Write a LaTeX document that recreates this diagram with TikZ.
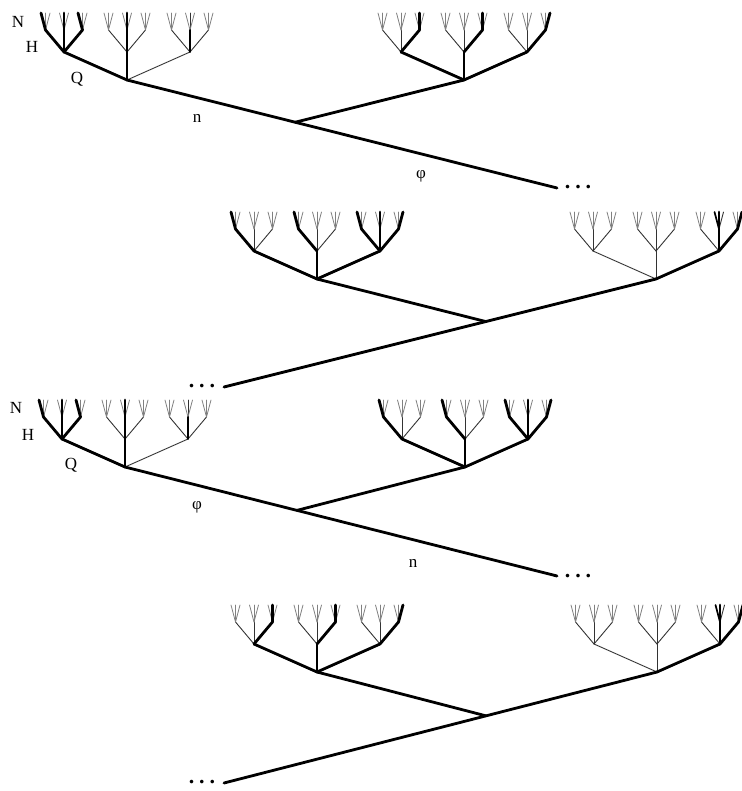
\documentclass[tikz,border=0pt]{standalone}
\usepackage{fontspec}
\setmainfont{Liberation Serif}
\usetikzlibrary{calc}

\tikzset{
  lbl/.style={font=\fontsize{17}{19}\selectfont, inner sep=0pt},
  dotsnode/.style={font=\fontsize{22}{24}\selectfont\bfseries, inner sep=0pt},
  mainline/.style={line width=2.8pt, line cap=round, line join=round},
  w0/.style={line width=0.8pt, draw=black!50, line cap=round},
  w1/.style={line width=0.9pt, draw=black!80, line cap=round},
  w2/.style={line width=1.7pt, draw=black, line cap=round},
  w3/.style={line width=2.8pt, draw=black, line cap=round},
}

% one edge, drawn in pass 0 (light) or pass 1 (heavy)
\newcommand{\drawedge}[4]{%
  \ifnum#1=0\relax
    \ifcase#2\relax \draw[w0] (#3) -- (#4);\or \draw[w1] (#3) -- (#4);\fi
  \else
    \ifcase#2\relax \or \or \draw[w2] (#3) -- (#4);\or \draw[w3] (#3) -- (#4);\fi
  \fi}

% three-level branching tree: root, 3 children, 9 grandchildren, 27 leaves
% #4 holds the 39 edge weights: 3 root edges, 9 child edges, 27 leaf edges
\newcommand{\branchtree}[4]{%
  \coordinate (#1) at (#2,#3);
  \foreach \i in {0,1,2}{
    \coordinate (#1-\i) at ($(#1)+({(\i-1)*63},-28)$);
    \foreach \j in {0,1,2}{
      \coordinate (#1-\i-\j) at ($(#1-\i)+({(\j-1)*18.5},-22)$);
      \foreach \k in {0,1,2}{
        \coordinate (#1-\i-\j-\k) at ($(#1-\i-\j)+({(\k-1)*4.5},-17)$);
      }
    }
  }
  \foreach \pass in {0,1}{
    \foreach \i in {0,1,2}{
      \pgfmathtruncatemacro\v{#4[\i]}
      \drawedge{\pass}{\v}{#1}{#1-\i}
      \foreach \j in {0,1,2}{
        \pgfmathtruncatemacro\v{#4[3+3*\i+\j]}
        \drawedge{\pass}{\v}{#1-\i}{#1-\i-\j}
        \foreach \k in {0,1,2}{
          \pgfmathtruncatemacro\v{#4[12+9*\i+3*\j+\k]}
          \drawedge{\pass}{\v}{#1-\i-\j}{#1-\i-\j-\k}
        }
      }
    }
  }
}

% edge weights of the four tree variants
\def\patA{{3,3,1, 3,3,3, 1,3,1, 1,2,1,
  3,0,0, 0,3,0, 3,0,0,  0,0,0, 0,3,0, 0,0,0,  0,0,0, 0,1,0, 0,0,0}}
\def\patB{{3,3,3, 1,1,3, 1,1,3, 1,1,3,
  0,0,0, 0,0,0, 0,3,0,  0,0,0, 0,0,0, 0,3,0,  0,0,0, 0,0,0, 0,0,3}}
\def\patC{{3,3,3, 3,1,1, 3,1,1, 3,3,3,
  3,0,0, 0,0,0, 0,0,0,  3,0,0, 0,0,0, 0,0,0,  3,0,0, 0,3,0, 0,0,3}}
\def\patD{{1,1,3, 1,1,1, 1,1,1, 1,3,3,
  0,0,0, 0,0,0, 0,0,0,  0,0,0, 0,0,0, 0,0,0,  0,0,0, 2,3,1, 0,0,3}}

\begin{document}
\begin{tikzpicture}[x=1pt,y=-1pt]
\useasboundingbox (0,0) rectangle (741,791);

% ---- first row ----
\branchtree{s1L}{127}{80}{\patA}
\branchtree{s1R}{464}{80}{\patB}
\coordinate (s1end) at (557,188);
\coordinate (s1J) at ($(s1L)!0.391!(s1end)$);
\draw[mainline] (s1L) -- (s1J) -- (s1end);
\draw[mainline] (s1J) -- (s1R);
\node[dotsnode] (s1dots) at (578,187) {.\kern5pt.\kern5pt.};
\node[lbl] (s1N) at (18,22) {N};
\node[lbl] (s1H) at (32,47) {H};
\node[lbl] (s1Q) at (77,79) {Q};
\node[lbl] (s1n) at (197,118) {n};
\node[lbl] (s1phi) at (421,176) {φ};

% ---- second row ----
\branchtree{s2L}{317}{279}{\patC}
\branchtree{s2R}{656}{279}{\patD}
\coordinate (s2end) at (224,387);
\coordinate (s2J) at ($(s2R)!0.394!(s2end)$);
\draw[mainline] (s2R) -- (s2J) -- (s2end);
\draw[mainline] (s2J) -- (s2L);
\node[dotsnode] (s2dots) at (202,386) {.\kern5pt.\kern5pt.};

% ---- third row ----
\branchtree{s3L}{125}{467}{\patA}
\branchtree{s3R}{465}{467}{\patC}
\coordinate (s3end) at (557,576);
\coordinate (s3J) at ($(s3L)!0.398!(s3end)$);
\draw[mainline] (s3L) -- (s3J) -- (s3end);
\draw[mainline] (s3J) -- (s3R);
\node[dotsnode] (s3dots) at (578,576) {.\kern5pt.\kern5pt.};
\node[lbl] (s3N) at (16,408) {N};
\node[lbl] (s3H) at (28,435) {H};
\node[lbl] (s3Q) at (71,465) {Q};
\node[lbl] (s3phi) at (197,507) {φ};
\node[lbl] (s3n) at (413,563) {n};

% ---- fourth row ----
\branchtree{s4L}{317}{672}{\patB}
\branchtree{s4R}{657}{672}{\patD}
\coordinate (s4end) at (224,783);
\coordinate (s4J) at ($(s4R)!0.395!(s4end)$);
\draw[mainline] (s4R) -- (s4J) -- (s4end);
\draw[mainline] (s4J) -- (s4L);
\node[dotsnode] (s4dots) at (202,782) {.\kern5pt.\kern5pt.};
\end{tikzpicture}
\end{document}
